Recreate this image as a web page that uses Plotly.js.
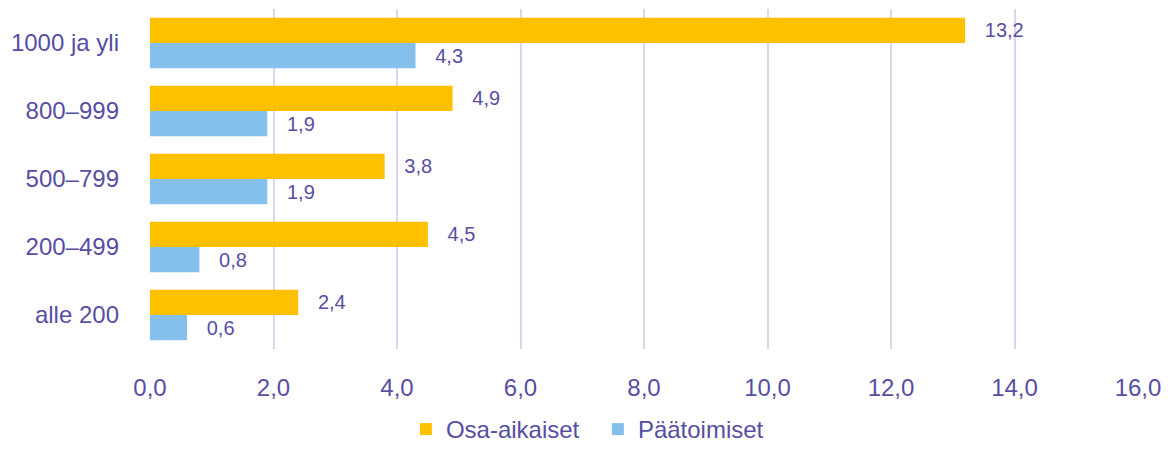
<!DOCTYPE html>
<html><head><meta charset="utf-8">
<script src="https://cdn.plot.ly/plotly-3.0.1.min.js"></script>
<style>html,body{margin:0;padding:0;background:#fff}#chart{width:1174px;height:452px}</style>
</head><body><div id="chart"></div>
<script>
const categories = ["1000 ja yli", "800–999", "500–799", "200–499", "alle 200"];
const osaAikaiset = [13.2, 4.9, 3.8, 4.5, 2.4];
const paatoimiset = [4.3, 1.9, 1.9, 0.8, 0.6];
const xTicks = [0, 2, 4, 6, 8, 10, 12, 14, 16];
const textColor = "#574ea3";
const fontFam = "Liberation Sans, Arial, sans-serif";

const traces = [
  {type: "bar", orientation: "h", name: "Osa-aikaiset", y: categories, x: osaAikaiset,
   marker: {color: "#ffc000"}, texttemplate: "   %{x:.1f}", textposition: "outside",
   textfont: {color: textColor, size: 20, family: fontFam}, cliponaxis: false, hoverinfo: "none"},
  {type: "bar", orientation: "h", name: "Päätoimiset", y: categories, x: paatoimiset,
   marker: {color: "#85c0ec"}, texttemplate: "   %{x:.1f}", textposition: "outside",
   textfont: {color: textColor, size: 20, family: fontFam}, cliponaxis: false, hoverinfo: "none"}
];
const layout = {
  width: 1174, height: 452,
  margin: {l: 150, r: 36, t: 9, b: 103, autoexpand: false},
  paper_bgcolor: "#fff", plot_bgcolor: "#fff",
  separators: ", ",
  barmode: "group", bargap: 0.26, bargroupgap: 0,
  font: {family: fontFam, color: textColor, size: 24},
  showlegend: true,
  legend: {orientation: "h", x: 0.259, xanchor: "left", yref: "container", y: 0, yanchor: "bottom",
           font: {size: 24, color: textColor}, itemwidth: 30, entrywidth: 147, borderwidth: 0},
  xaxis: {range: [0, 16], tickvals: xTicks, tickformat: ".1f", showgrid: true,
          gridcolor: "#d9d8ea", gridwidth: 2, zeroline: false, showline: false,
          ticklabelstandoff: 22, tickfont: {size: 24, color: textColor}, fixedrange: true},
  yaxis: {type: "category", autorange: "reversed", showgrid: false, zeroline: false,
          showline: false, ticklabelstandoff: 30, tickfont: {size: 24, color: textColor}, fixedrange: true}
};
Plotly.newPlot("chart", traces, layout, {displayModeBar: false, staticPlot: true});
</script></body></html>
